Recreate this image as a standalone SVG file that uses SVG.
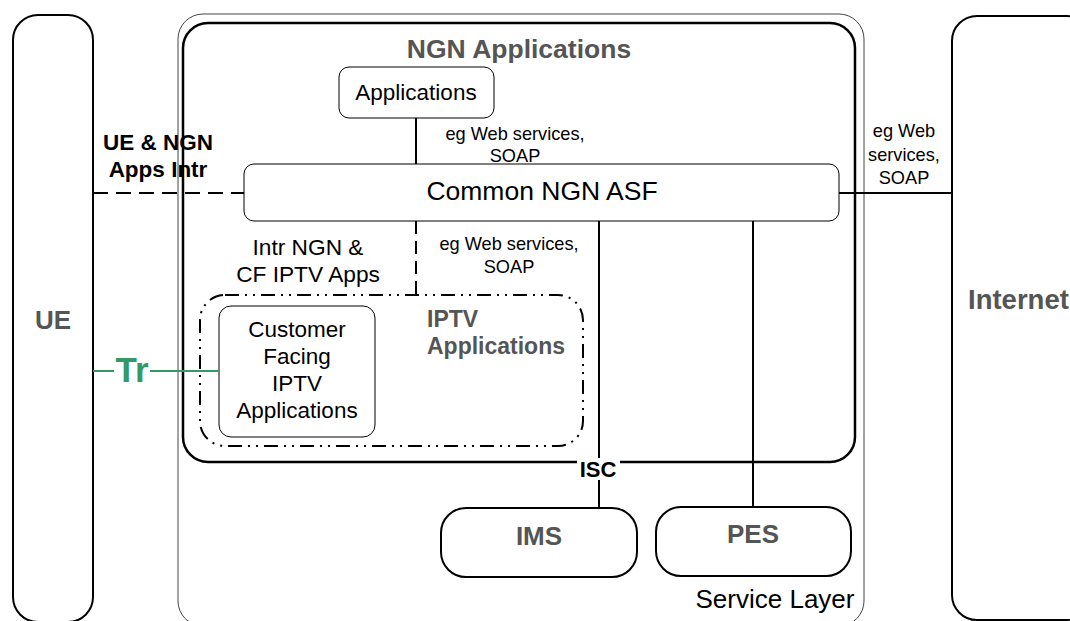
<svg xmlns="http://www.w3.org/2000/svg" width="1070" height="621" viewBox="0 0 1070 621">
<style>
text{font-family:"Liberation Sans",Arial,sans-serif;fill:#000}
.b{font-weight:bold}
.g{fill:#555555}
.box{fill:none;stroke:#000;stroke-width:2}
.thin{fill:#fff;stroke:#000;stroke-width:1}
.ln{stroke:#000;stroke-width:2;fill:none}
.c{text-anchor:middle}
</style>
<rect width="1070" height="621" fill="#fff"/>
<g id="service-layer">
<rect x="178" y="14" width="686" height="612" rx="25" fill="none" stroke="#444" stroke-width="1"/>
<text x="775" y="608" class="c" font-size="26">Service Layer</text>
</g>
<g id="ue">
<rect x="13" y="15" width="80" height="607" rx="25" class="box"/>
<text x="53" y="329" class="c b g" font-size="26">UE</text>
</g>
<g id="internet">
<rect x="952" y="16" width="140" height="604" rx="25" class="box"/>
<text x="968" y="309" class="b g" font-size="27.5">Internet</text>
</g>
<g id="ngn-applications">
<rect x="183" y="23" width="672" height="439" rx="25" fill="none" stroke="#000" stroke-width="2.5"/>
<text x="519" y="58" class="c b g" font-size="26.5">NGN Applications</text>
</g>
<g id="applications">
<rect x="339" y="67" width="155" height="51" rx="10" class="thin"/>
<text x="416" y="100" class="c" font-size="22.5">Applications</text>
</g>
<g id="common-ngn-asf">
<rect x="244" y="164" width="595" height="57" rx="10" class="thin"/>
<text x="542" y="200" class="c" font-size="26.5">Common NGN ASF</text>
</g>
<g id="iptv-applications">
<rect x="200" y="295" width="383" height="151" rx="25" fill="none" stroke="#000" stroke-width="2" stroke-dasharray="14 6 2 6 2 6"/>
<text x="427" y="327" class="b g" font-size="23">IPTV</text>
<text x="427" y="354" class="b g" font-size="23">Applications</text>
</g>
<g id="customer-facing">
<rect x="219" y="306" width="156" height="131" rx="12" class="thin"/>
<text x="297" y="337" class="c" font-size="22.5">Customer</text>
<text x="297" y="364" class="c" font-size="22.5">Facing</text>
<text x="297" y="391" class="c" font-size="22.5">IPTV</text>
<text x="297" y="418" class="c" font-size="22.5">Applications</text>
</g>
<g id="ims">
<rect x="441" y="508" width="196" height="69" rx="25" class="box"/>
<text x="539" y="545" class="c b g" font-size="26">IMS</text>
</g>
<g id="pes">
<rect x="656" y="507" width="195" height="69" rx="25" class="box"/>
<text x="753" y="543" class="c b g" font-size="26">PES</text>
</g>
<g id="connectors">
<line x1="416" y1="118" x2="416" y2="164" class="ln"/>
<line x1="93" y1="193" x2="244" y2="193" class="ln" stroke-dasharray="15 8"/>
<line x1="416" y1="221" x2="416" y2="295" class="ln" stroke-dasharray="13 7"/>
<line x1="599" y1="221" x2="599" y2="508" class="ln"/>
<line x1="753" y1="221" x2="753" y2="507" class="ln"/>
<line x1="839" y1="193" x2="952" y2="193" class="ln"/>
<line x1="93" y1="371" x2="114" y2="371" stroke="#339966" stroke-width="2"/>
<line x1="150" y1="371" x2="219" y2="371" stroke="#339966" stroke-width="2"/>
<rect x="577" y="458" width="43" height="22" fill="#fff"/>
<text x="598" y="477" class="c b" font-size="22">ISC</text>
<text x="132" y="382" class="c b" font-size="35" style="fill:#339966">Tr</text>
<text x="158" y="150" class="c b" font-size="22.5">UE &amp; NGN</text>
<text x="158" y="177" class="c b" font-size="22.5">Apps Intr</text>
<text x="308" y="255" class="c" font-size="22.7">Intr NGN &amp;</text>
<text x="308" y="282" class="c" font-size="22.7">CF IPTV Apps</text>
<text x="515" y="140" class="c" font-size="18.2">eg Web services,</text>
<text x="515" y="162" class="c" font-size="18.2">SOAP</text>
<text x="509" y="250" class="c" font-size="18.2">eg Web services,</text>
<text x="509" y="273" class="c" font-size="18.2">SOAP</text>
<text x="904" y="137" class="c" font-size="18.2">eg Web</text>
<text x="904" y="161" class="c" font-size="18.2">services,</text>
<text x="904" y="184" class="c" font-size="18.2">SOAP</text>
</g>
</svg>
